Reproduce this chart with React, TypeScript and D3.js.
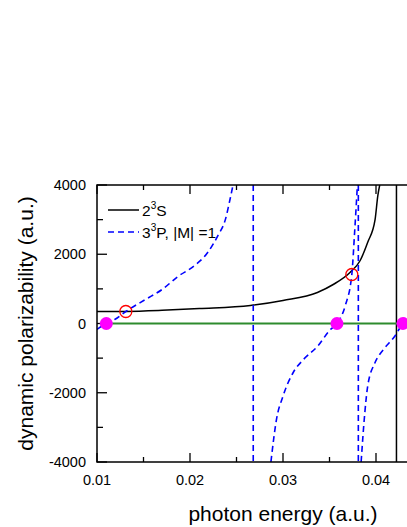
import React from "react";
import * as d3 from "d3";

const xTicks = [0.01, 0.02, 0.03, 0.04];
const xMinorTicks = [0.015, 0.025, 0.035, 0.045];
const yTicks = [-4000, -2000, 0, 2000, 4000];
const yMinorTicks = [-3000, -1000, 1000, 3000];

const s23Energy = [0.010, 0.0131, 0.017, 0.021, 0.0265, 0.030, 0.0337, 0.0354, 0.0372, 0.0383, 0.0391, 0.0399, 0.0402, 0.0404];
const s23Alpha = [347, 350, 380, 430, 520, 664, 895, 1126, 1473, 1820, 2340, 3000, 3700, 4000];
const s23Pole = 0.0422;

const p33Branch1Energy = [0.010, 0.0110, 0.0119, 0.0131, 0.0152, 0.0170, 0.0187, 0.0205, 0.0219, 0.0230, 0.0238, 0.0243, 0.0247];
const p33Branch1Alpha = [-170, 0, 115, 347, 693, 982, 1357, 1675, 2050, 2540, 3000, 3580, 4100];
const p33Branch2Energy = [0.0287, 0.0293, 0.0300, 0.0311, 0.0322, 0.0337, 0.0351, 0.0358, 0.0367, 0.0374, 0.0377, 0.0380];
const p33Branch2Alpha = [-4000, -2770, -2100, -1415, -1040, -664, -173, 0, 520, 1415, 2630, 4000];
const p33Branch3Energy = [0.0384, 0.0388, 0.0391, 0.0399, 0.0408, 0.0420, 0.0429, 0.045];
const p33Branch3Alpha = [-4000, -2570, -1820, -1126, -750, -375, 0, 300];
const p33Poles = [0.0268, 0.0381];

const zeroEnergy = [0.0110, 0.0358, 0.0429];
const magicEnergy = [0.0131, 0.0374];
const magicAlpha = [347, 1415];

const W = 407, H = 527;
const M = { left: 97, top: 185, right: 422.5, bottom: 462 };

export default function App() {
  const x = d3.scaleLinear().domain([0.01, 0.045]).range([M.left, M.right]);
  const y = d3.scaleLinear().domain([-4000, 4000]).range([M.bottom, M.top]);
  const line = d3.line<[number, number]>().x(d => x(d[0])).y(d => y(d[1])).curve(d3.curveMonotoneX);
  const zip = (a: number[], b: number[]) => a.map((v, i) => [v, b[i]] as [number, number]);
  const font = "Arial, 'Liberation Sans', sans-serif";
  const blueDash = "6,4";

  return (
    <svg width={W} height={H} style={{ position: "absolute", left: 0, top: 0 }} fontFamily={font}>
      <defs>
        <clipPath id="plot">
          <rect x={M.left} y={M.top} width={M.right - M.left} height={M.bottom - M.top} />
        </clipPath>
      </defs>
      <g clipPath="url(#plot)">
        <path d={line(zip(s23Energy, s23Alpha)) || ""} fill="none" stroke="#000" strokeWidth={1.5} />
        <line x1={x(s23Pole)} x2={x(s23Pole)} y1={M.top} y2={M.bottom} stroke="#000" strokeWidth={1.5} />
        {[zip(p33Branch1Energy, p33Branch1Alpha), zip(p33Branch2Energy, p33Branch2Alpha), zip(p33Branch3Energy, p33Branch3Alpha)].map((b, i) => (
          <path key={i} d={line(b) || ""} fill="none" stroke="#0000ff" strokeWidth={1.6} strokeDasharray={blueDash} />
        ))}
        {p33Poles.map((p, i) => (
          <line key={i} x1={x(p)} x2={x(p)} y1={M.top} y2={M.bottom} stroke="#0000ff" strokeWidth={1.6} strokeDasharray={blueDash} />
        ))}
        <line x1={x(zeroEnergy[0])} x2={M.right} y1={y(0)} y2={y(0)} stroke="#2e8b2e" strokeWidth={2} />
      </g>
      <rect x={M.left} y={M.top} width={M.right - M.left} height={M.bottom - M.top} fill="none" stroke="#000" strokeWidth={1.5} />
      {xTicks.map(t => (
        <g key={t}>
          <line x1={x(t)} x2={x(t)} y1={M.bottom} y2={M.bottom - 9} stroke="#000" strokeWidth={1.3} />
          <line x1={x(t)} x2={x(t)} y1={M.top} y2={M.top + 9} stroke="#000" strokeWidth={1.3} />
          <text x={x(t)} y={485} textAnchor="middle" fontSize={14.5}>{d3.format(".2f")(t)}</text>
        </g>
      ))}
      {xMinorTicks.map(t => (
        <g key={t}>
          <line x1={x(t)} x2={x(t)} y1={M.bottom} y2={M.bottom - 5} stroke="#000" strokeWidth={1.3} />
          <line x1={x(t)} x2={x(t)} y1={M.top} y2={M.top + 5} stroke="#000" strokeWidth={1.3} />
        </g>
      ))}
      {yTicks.map(t => (
        <g key={t}>
          <line x1={M.left} x2={M.left + 10} y1={y(t)} y2={y(t)} stroke="#000" strokeWidth={1.3} />
          <text x={86} y={y(t) + 5} textAnchor="end" fontSize={14.5}>{t}</text>
        </g>
      ))}
      {yMinorTicks.map(t => (
        <line key={t} x1={M.left} x2={M.left + 6} y1={y(t)} y2={y(t)} stroke="#000" strokeWidth={1.3} />
      ))}
      {zeroEnergy.map((e, i) => (
        <circle key={i} cx={x(e)} cy={y(0)} r={6.5} fill="#ff00ff" />
      ))}
      {magicEnergy.map((e, i) => (
        <circle key={i} cx={x(e)} cy={y(magicAlpha[i])} r={6} fill="none" stroke="#ff0000" strokeWidth={1.3} />
      ))}
      <line x1={108} x2={139} y1={210} y2={210} stroke="#000" strokeWidth={1.5} />
      <text x={142} y={215.5} fontSize={15.5}>2<tspan fontSize={10} dy={-6.5}>3</tspan><tspan dy={6.5}>S</tspan></text>
      <line x1={108} x2={139} y1={232} y2={232} stroke="#0000ff" strokeWidth={1.6} strokeDasharray={blueDash} />
      <text x={142} y={237.5} fontSize={15.5}>3<tspan fontSize={10} dy={-6.5}>3</tspan><tspan dy={6.5}>P, |M| =1</tspan></text>
      <text x={283} y={521} textAnchor="middle" fontSize={21}>photon energy (a.u.)</text>
      <text transform={`translate(33,${(M.top + M.bottom) / 2}) rotate(-90)`} textAnchor="middle" fontSize={21}>dynamic polarizability (a.u.)</text>
    </svg>
  );
}
